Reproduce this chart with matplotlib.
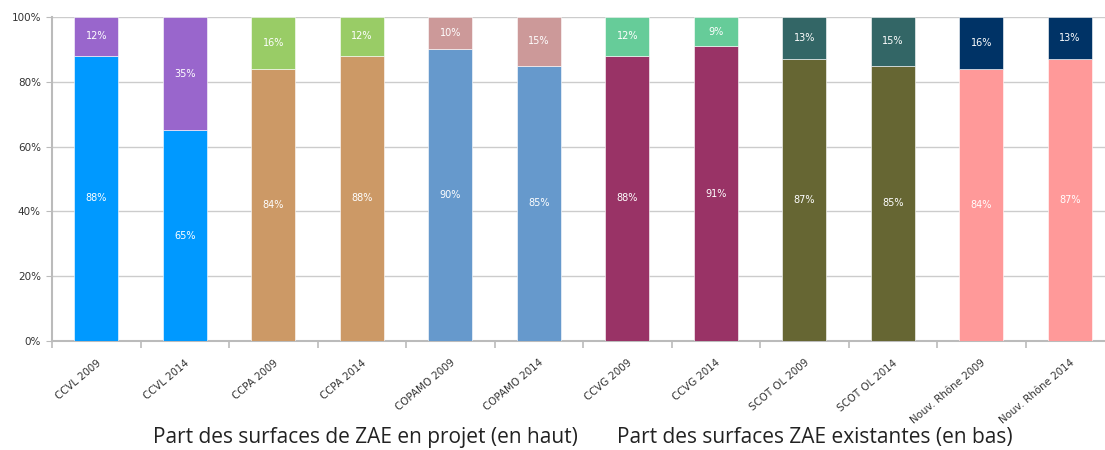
import matplotlib
matplotlib.use("Agg")
import matplotlib.pyplot as plt
import numpy as np

categories = ["CCVL 2009", "CCVL 2014", "CCPA 2009", "CCPA 2014",
              "COPAMO 2009", "COPAMO 2014", "CCVG 2009", "CCVG 2014",
              "SCOT OL 2009", "SCOT OL 2014", "Nouv. Rhône 2009", "Nouv. Rhône 2014"]
existantes = [88, 65, 84, 88, 90, 85, 88, 91, 87, 85, 84, 87]   # en bas
projet = [12, 35, 16, 12, 10, 15, 12, 9, 13, 15, 16, 13]        # en haut

bottom_colors = ["#0099FF", "#0099FF", "#CC9966", "#CC9966", "#6699CC", "#6699CC",
                 "#993366", "#993366", "#666633", "#666633", "#FF9999", "#FF9999"]
top_colors = ["#9966CC", "#9966CC", "#99CC66", "#99CC66", "#CC9999", "#CC9999",
              "#66CC99", "#66CC99", "#336666", "#336666", "#003366", "#003366"]

fig = plt.figure(figsize=(11.05, 4.5), dpi=100)
ax = fig.add_axes([52/1105, 1-341/450, 1-52/1105, (341-17)/450])

x = np.arange(len(categories))
w = 0.5
ax.bar(x, existantes, w, color=bottom_colors, edgecolor="#ffffff", linewidth=0.4, zorder=3)
ax.bar(x, projet, w, bottom=existantes, color=top_colors, edgecolor="#ffffff", linewidth=0.4, zorder=3)

for xi, b, t in zip(x, existantes, projet):
    ax.text(xi, b/2, f"{b}%", ha="center", va="center", color="white", fontsize=7, zorder=4)
    ax.text(xi, b + t/2, f"{t}%", ha="center", va="center", color="white", fontsize=7, zorder=4)

ax.set_yticks(np.arange(0, 101, 20))
ax.set_yticklabels([f"{v}%" for v in range(0, 101, 20)], fontsize=7.5, color="#333333")
ax.yaxis.grid(True, color="#cccccc", linewidth=1, zorder=0)
ax.tick_params(axis="y", length=4, color="#bbbbbb", pad=4)

ax.set_xticks(x)
ax.set_xticklabels(categories, rotation=40, ha="right", rotation_mode="anchor",
                   fontsize=7.4, color="#333333")
ax.set_xticks(np.arange(-0.5, len(categories), 1), minor=True)
ax.tick_params(axis="x", which="major", length=0, pad=12)
ax.tick_params(axis="x", which="minor", length=5, color="#bbbbbb", width=1.2)

ax.set_ylim(0, 100)
ax.set_xlim(-0.5, -0.5 + (1105-52)/88.5)

for s in ["top", "right"]:
    ax.spines[s].set_visible(False)
for s in ["left", "bottom"]:
    ax.spines[s].set_color("#bbbbbb")
    ax.spines[s].set_linewidth(1.5)

fig.text(153/1105, 1-438/450, "Part des surfaces de ZAE en projet (en haut)",
         ha="left", va="center", fontsize=15, color="#222222", family="Open Sans")
fig.text(617/1105, 1-438/450, "Part des surfaces ZAE existantes (en bas)",
         ha="left", va="center", fontsize=15, color="#222222", family="Open Sans")

fig.savefig("out.png", dpi=100)
